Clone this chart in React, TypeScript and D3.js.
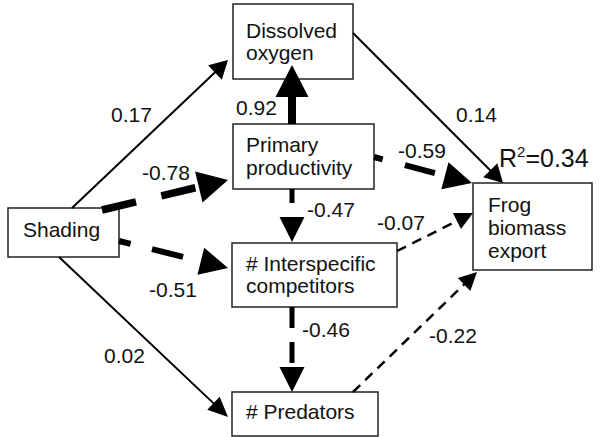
import React from "react";
import * as d3 from "d3";

// Path model: variables, directed paths and standardized coefficients
const nodeIds = ["shade", "oxygen", "prod", "comp", "pred", "frog"];
const nodeLines = [
  ["Shading"],
  ["Dissolved", "oxygen"],
  ["Primary", "productivity"],
  ["# Interspecific", "competitors"],
  ["# Predators"],
  ["Frog", "biomass", "export"],
];
const pathFrom = ["shade", "shade", "shade", "shade", "prod", "prod", "comp", "oxygen", "prod", "comp", "pred"];
const pathTo = ["oxygen", "prod", "comp", "pred", "oxygen", "comp", "pred", "frog", "frog", "frog", "frog"];
const pathCoef = [0.17, -0.78, -0.51, 0.02, 0.92, -0.47, -0.46, 0.14, -0.59, -0.07, -0.22];
const rSquared = 0.34;

// Layout: boxes, text anchors and arrow geometry
const boxes: Record<string, { x: number; y: number; w: number; h: number; tx: number; ty: number[] }> = {
  shade: { x: 8, y: 208, w: 111, h: 49, tx: 23, ty: [237] },
  oxygen: { x: 233, y: 4, w: 120, h: 75, tx: 246, ty: [38, 60] },
  prod: { x: 233, y: 124, w: 141, h: 65, tx: 246, ty: [152, 175] },
  comp: { x: 232, y: 243, w: 165, h: 64, tx: 246, ty: [271, 293] },
  pred: { x: 232, y: 392, w: 146, h: 44, tx: 246, ty: [419] },
  frog: { x: 473, y: 183, w: 119, h: 87, tx: 488, ty: [212, 235, 258] },
};

type ArrowStyle = {
  p0: [number, number];
  tip: [number, number];
  w: number;
  hl: number;
  hw: number;
  dash?: string;
  offset?: number;
  label: [number, number];
};

const arrowLayout: ArrowStyle[] = [
  { p0: [72, 208], tip: [228, 60], w: 2, hl: 18, hw: 20, label: [111, 122] },
  { p0: [102, 210], tip: [228, 180], w: 7.5, hl: 30, hw: 32, dash: "35 26", offset: 0, label: [142, 180] },
  { p0: [119, 241], tip: [228, 268], w: 6, hl: 28, hw: 28, dash: "32 22", offset: 20, label: [149, 297] },
  { p0: [59, 257], tip: [228, 417], w: 2, hl: 20, hw: 18, label: [104, 363] },
  { p0: [292, 124], tip: [292, 65], w: 8, hl: 32, hw: 33, label: [236, 115] },
  { p0: [292, 189], tip: [292, 242], w: 5, hl: 25, hw: 25, dash: "14 20", offset: 0, label: [307, 217] },
  { p0: [292, 307], tip: [292, 392], w: 5, hl: 25, hw: 25, dash: "21 14", offset: 0, label: [302, 337] },
  { p0: [353, 33], tip: [503, 183], w: 2, hl: 18, hw: 20, label: [456, 122] },
  { p0: [374, 157], tip: [472, 183], w: 6, hl: 28, hw: 28, dash: "31 23", offset: 22, label: [398, 158] },
  { p0: [397, 251], tip: [473, 213], w: 2.5, hl: 18, hw: 18, dash: "10 7", offset: 0, label: [377, 230] },
  { p0: [353, 392], tip: [477, 272], w: 2.5, hl: 18, hw: 18, dash: "10 7", offset: 0, label: [429, 343] },
];

const FONT = "'Liberation Sans', Arial, Helvetica, sans-serif";

const lineGen = d3.line<[number, number]>();

function arrowParts(a: ArrowStyle) {
  const [x0, y0] = a.p0;
  const [x1, y1] = a.tip;
  const len = Math.hypot(x1 - x0, y1 - y0);
  const ux = (x1 - x0) / len;
  const uy = (y1 - y0) / len;
  const bx = x1 - ux * a.hl;
  const by = y1 - uy * a.hl;
  const px = -uy;
  const py = ux;
  const shaftEnd: [number, number] = a.dash ? [bx, by] : [bx + ux * 2, by + uy * 2];
  const shaft = lineGen([[x0, y0], shaftEnd]) as string;
  const head =
    (lineGen([
      [x1, y1],
      [bx + (px * a.hw) / 2, by + (py * a.hw) / 2],
      [bx - (px * a.hw) / 2, by - (py * a.hw) / 2],
    ]) as string) + "Z";
  return { shaft, head };
}

const fmt = (v: number) => (v < 0 ? "-" : "") + d3.format(".2f")(Math.abs(v));

export default function App() {
  return (
    <svg
      width={600}
      height={437}
      style={{ position: "absolute", left: 0, top: 0, background: "#fff" }}
      fontFamily={FONT}
    >
      <rect width={600} height={437} fill="#fff" />
      {nodeIds.map((id, i) => {
        const b = boxes[id];
        return (
          <g key={id}>
            <rect x={b.x} y={b.y} width={b.w} height={b.h} fill="#fff" stroke="#222" strokeWidth={1.5} />
            {nodeLines[i].map((t, j) => (
              <text key={j} x={b.tx} y={b.ty[j]} fontSize={21} fill="#111">
                {t}
              </text>
            ))}
          </g>
        );
      })}
      {pathCoef.map((c, i) => {
        const a = arrowLayout[i];
        const { shaft, head } = arrowParts(a);
        return (
          <g key={pathFrom[i] + "-" + pathTo[i]}>
            <path
              d={shaft}
              fill="none"
              stroke="#000"
              strokeWidth={a.w}
              strokeDasharray={c < 0 ? a.dash : undefined}
              strokeDashoffset={c < 0 ? a.offset : undefined}
            />
            <path d={head} fill="#000" />
            <text x={a.label[0]} y={a.label[1]} fontSize={21} fill="#111">
              {fmt(c)}
            </text>
          </g>
        );
      })}
      <text x={499} y={167} fontSize={25} fill="#111">
        R
        <tspan fontSize={15} dy={-10}>
          2
        </tspan>
        <tspan dy={10}>={d3.format(".2f")(rSquared)}</tspan>
      </text>
    </svg>
  );
}
